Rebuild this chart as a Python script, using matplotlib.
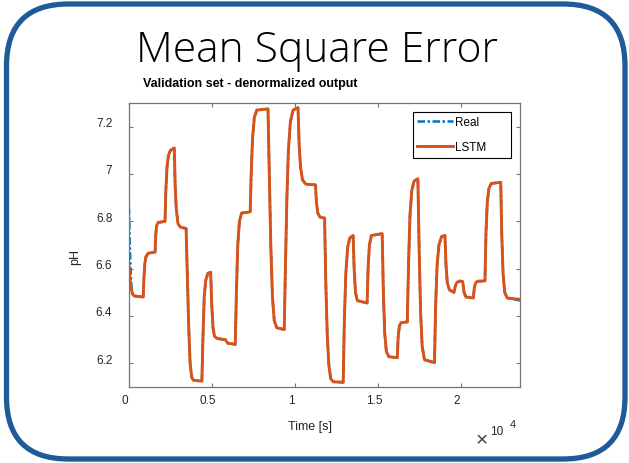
import matplotlib
matplotlib.use("Agg")
import matplotlib.pyplot as plt
import matplotlib.transforms as mtransforms
from matplotlib.patches import FancyBboxPatch

# pH trace predicted by the LSTM, time in seconds
lstm_t = [0, 60, 120, 200, 300, 860,
          900, 950, 1020, 1150, 1570,
          1610, 1660, 1750, 2170,
          2220, 2290, 2380, 2500, 2730,
          2780, 2850, 2950, 3100, 3440,
          3520, 3600, 3680, 3780, 3900, 4390,
          4450, 4530, 4620, 4750, 4920,
          4980, 5060, 5150, 5300, 5800, 5950, 6400,
          6470, 6550, 6650, 6780, 7300,
          7360, 7440, 7550, 7700, 8370,
          8450, 8540, 8640, 8750, 8900, 9350,
          9420, 9510, 9600, 9720, 9880, 10180,
          10250, 10330, 10450, 10650, 11230,
          11290, 11370, 11500, 11780,
          11850, 11940, 12040, 12150, 12300, 12900,
          12970, 13060, 13170, 13300, 13500,
          13560, 13640, 13750, 14340,
          14400, 14480, 14600, 15250,
          15320, 15400, 15500, 15650, 16160,
          16210, 16290, 16400, 16760,
          16830, 16920, 17030, 17170, 17400,
          17470, 17560, 17660, 17800, 18400,
          18470, 18560, 18670, 18820, 19030,
          19090, 19170, 19300, 19570,
          19650, 19750, 19950, 20100,
          20180, 20300, 20740,
          20800, 20880, 21000, 21440,
          21500, 21580, 21680, 21820, 22390,
          22450, 22530, 22630, 22780, 23600]
lstm_ph = [6.61, 6.56, 6.52, 6.495, 6.485, 6.48,
           6.56, 6.62, 6.65, 6.665, 6.67,
           6.74, 6.78, 6.795, 6.80,
           6.93, 7.03, 7.08, 7.10, 7.11,
           6.95, 6.85, 6.79, 6.775, 6.77,
           6.55, 6.35, 6.20, 6.14, 6.128, 6.125,
           6.30, 6.48, 6.55, 6.58, 6.585,
           6.45, 6.35, 6.315, 6.305, 6.30, 6.285, 6.28,
           6.50, 6.70, 6.80, 6.835, 6.84,
           7.00, 7.15, 7.24, 7.27, 7.275,
           7.00, 6.70, 6.48, 6.38, 6.35, 6.343,
           6.60, 6.90, 7.10, 7.22, 7.27, 7.28,
           7.12, 7.03, 6.975, 6.957, 6.954,
           6.88, 6.835, 6.818, 6.814,
           6.55, 6.32, 6.19, 6.135, 6.122, 6.12,
           6.38, 6.58, 6.69, 6.73, 6.74,
           6.60, 6.50, 6.465, 6.455,
           6.60, 6.70, 6.74, 6.748,
           6.50, 6.33, 6.25, 6.228, 6.224,
           6.31, 6.36, 6.372, 6.375,
           6.60, 6.82, 6.93, 6.97, 6.98,
           6.70, 6.42, 6.27, 6.215, 6.203,
           6.45, 6.62, 6.70, 6.735, 6.74,
           6.62, 6.54, 6.51, 6.50,
           6.525, 6.542, 6.548, 6.545,
           6.50, 6.48, 6.476,
           6.52, 6.54, 6.547, 6.548,
           6.75, 6.88, 6.94, 6.96, 6.965,
           6.75, 6.58, 6.50, 6.476, 6.47]

# measured pH: starts higher, otherwise lies under the LSTM trace
real_head_t = [0, 40, 90, 150]
real_head_ph = [6.86, 6.72, 6.60, 6.52]
real_end_ph = 6.465

real_t = real_head_t + [t for t in lstm_t if t > real_head_t[-1]]
real_ph = real_head_ph + [p for t, p in zip(lstm_t, lstm_ph) if t > real_head_t[-1]]
real_ph[-1] = real_end_ph

xticks = [0, 5000, 10000, 15000, 20000]
xticklabels = ['0', '0.5', '1', '1.5', '2']
yticks = [6.2, 6.4, 6.6, 6.8, 7.0, 7.2]
yticklabels = ['6.2', '6.4', '6.6', '6.8', '7', '7.2']

W, H = 629, 464
fig = plt.figure(figsize=(W / 100, H / 100), dpi=100)
fig.patch.set_facecolor('white')

# slide frame
frame = FancyBboxPatch((6.5, H - 460), 618.5, 455,
                       boxstyle="round,pad=0,rounding_size=62",
                       transform=mtransforms.IdentityTransform(),
                       facecolor='none', edgecolor='#1F5B98', linewidth=3.8)
fig.add_artist(frame)

fig.text(317 / W, 1 - 62 / H, 'Mean Square Error', ha='center', va='baseline',
         fontsize=30.7, family='Open Sans', weight='light', color='black')
fig.text(143 / W, 1 - 87.5 / H, 'Validation set - denormalized output',
         ha='left', va='baseline', fontsize=9, family='Liberation Sans',
         weight='bold', color='black')

ax = fig.add_axes([129 / W, 1 - 388 / H, 391 / W, 284 / H])
ax.plot(real_t, real_ph, color='#0072BD', lw=1.8, ls=(0, (3, 1, 1, 1)), label='Real')
ax.plot(lstm_t, lstm_ph, color='#D95319', lw=2.1, label='LSTM')

ax.set_xlim(0, 23550)
ax.set_ylim(6.1, 7.3)
ax.set_xticks(xticks)
ax.set_xticklabels(xticklabels)
ax.set_yticks(yticks)
ax.set_yticklabels(yticklabels)

for s in ax.spines.values():
    s.set_color('#757575')
    s.set_linewidth(0.9)
ax.tick_params(direction='in', length=3.2, width=0.8, color='#757575',
               top=True, right=True, labelsize=8.5, labelcolor='#262626')
ax.tick_params(axis='x', pad=5)
ax.tick_params(axis='y', pad=12)
for lab in ax.get_xticklabels() + ax.get_yticklabels():
    lab.set_family('Liberation Sans')

dx = mtransforms.ScaledTranslation(-0.04, 0, fig.dpi_scale_trans)
dy = mtransforms.ScaledTranslation(0, 0.05, fig.dpi_scale_trans)
for lab in ax.get_xticklabels():
    lab.set_transform(lab.get_transform() + dx)
for lab in ax.get_yticklabels():
    lab.set_transform(lab.get_transform() + dy)

leg = ax.legend(loc='upper left', bbox_to_anchor=(0.7256, 0.5, 0.2506, 0.4694),
                mode='expand', borderaxespad=0, fancybox=False, framealpha=1,
                edgecolor='black', handlelength=3.0, handletextpad=0.2,
                labelspacing=1.1, borderpad=0.4,
                prop={'family': 'Liberation Sans', 'size': 8.5})
leg.get_frame().set_linewidth(0.8)

fig.text(309.5 / W, 1 - 427 / H, 'Time [s]', ha='center', va='center',
         fontsize=9, family='Liberation Sans', color='#262626')
fig.text(75 / W, 1 - 256.7 / H, 'pH', ha='center', va='center', rotation=90,
         fontsize=9, family='Liberation Sans', color='#262626')
fig.text(481.7 / W, 1 - 440.7 / H, '\u00d7', ha='center', va='center',
         fontsize=15, family='Liberation Sans', color='#404040')
fig.text(496.7 / W, 1 - 431.7 / H, '10', ha='center', va='center',
         fontsize=8.5, family='Liberation Sans', color='#262626')
fig.text(512.7 / W, 1 - 425 / H, '4', ha='center', va='center',
         fontsize=8, family='Liberation Sans', color='#262626')

fig.savefig('out.png', dpi=100)
